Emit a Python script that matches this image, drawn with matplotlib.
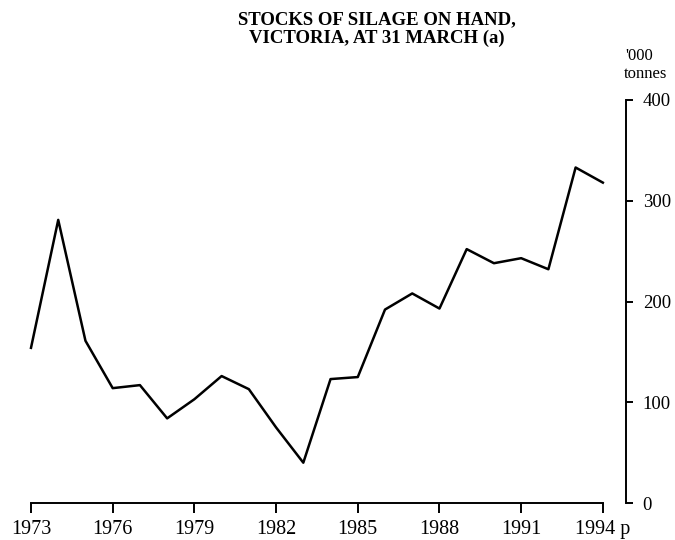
import matplotlib
matplotlib.use("Agg")
import matplotlib.pyplot as plt

years = list(range(1973, 1995))
stocks = [154, 281, 161, 114, 117, 84, 103, 126, 113, 75, 40,
          123, 125, 192, 208, 193, 252, 238, 243, 232, 333, 318]
tick_years = [1973, 1976, 1979, 1982, 1985, 1988, 1991, 1994]
tick_labels = ["1973", "1976", "1979", "1982", "1985", "1988", "1991", "1994 p"]
y_ticks = [0, 100, 200, 300, 400]

plt.rcParams["font.family"] = ["Liberation Serif", "DejaVu Serif"]

fig = plt.figure(figsize=(6.75, 5.4), dpi=100)
ax = fig.add_axes([31 / 675, 1 - 503 / 540, (626 - 31) / 675, (503 - 100) / 540])

ax.plot(years, stocks, color="black", lw=1.8, clip_on=False)

ax.set_xlim(1973, 1994.85)
ax.set_ylim(0, 400)

# x axis only spans the years, y axis sits on the right
ax.spines["top"].set_visible(False)
ax.spines["left"].set_visible(False)
ax.spines["bottom"].set_bounds(1973, 1994)
ax.spines["bottom"].set_linewidth(1.4)
ax.spines["right"].set_linewidth(1.4)

ax.set_xticks(tick_years)
ax.set_xticklabels(tick_labels)
ax.tick_params(axis="x", direction="out", length=7, width=1.4, pad=5, labelsize=14.5)

ax.yaxis.tick_right()
ax.set_yticks(y_ticks)
ax.tick_params(axis="y", direction="out", length=5, width=1.4, pad=7, labelsize=13.5)

ax.text(0.998, 1.11, "'000", transform=ax.transAxes, ha="left", va="center", fontsize=12)
ax.text(0.996, 1.065, "tonnes", transform=ax.transAxes, ha="left", va="center", fontsize=12)

fig.text(377 / 675, 1 - 29 / 540, "STOCKS OF SILAGE ON HAND,\nVICTORIA, AT 31 MARCH (a)",
         ha="center", va="center", fontsize=13.5, fontweight="bold", linespacing=1.1)

fig.savefig("out.png", dpi=100)
